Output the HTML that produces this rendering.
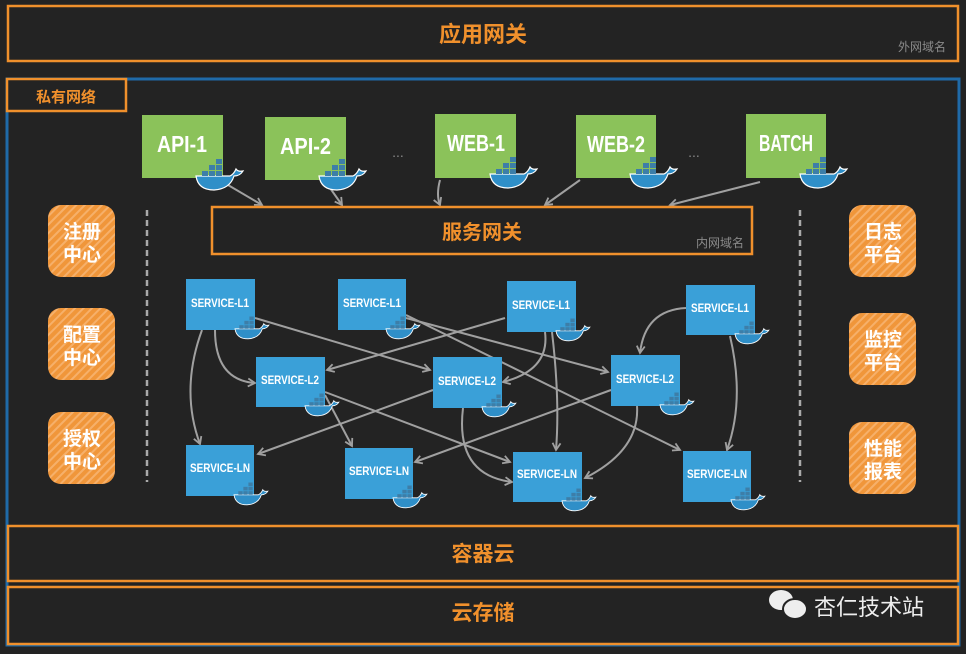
<!DOCTYPE html>
<html><head><meta charset="utf-8"><style>
body{margin:0;background:#232323;}
svg text{font-family:"Liberation Sans","Noto Sans CJK SC",sans-serif;}
</style></head><body>
<svg width="966" height="649" viewBox="0 0 966 649" xmlns="http://www.w3.org/2000/svg">
<defs>
<pattern id="st" width="6" height="6" patternUnits="userSpaceOnUse" patternTransform="rotate(45)">
<rect width="6" height="6" fill="#f0963a"/><rect width="2" height="6" fill="#f6b06a"/>
</pattern>
<marker id="ah" markerWidth="10" markerHeight="10" refX="8" refY="5" orient="auto" markerUnits="userSpaceOnUse">
<path d="M1,1 L8,5 L1,9" fill="none" stroke="#a0a0a0" stroke-width="1.8"/>
</marker>
<g id="wh">
<path d="M0,8 Q2,22 18,22 Q34,21 38,8 Q44,8 47,3 Q42,4 40,1 Q38,6 34,8 Z" fill="#2f8fc8" stroke="#fff" stroke-width="1.2"/>
<rect x="6" y="3" width="6" height="5" fill="#3d7ea8"/><rect x="13" y="3" width="6" height="5" fill="#3d7ea8"/><rect x="20" y="3" width="6" height="5" fill="#3d7ea8"/>
<rect x="13" y="-3" width="6" height="5" fill="#3d7ea8"/><rect x="20" y="-3" width="6" height="5" fill="#3d7ea8"/><rect x="20" y="-9" width="6" height="5" fill="#3d7ea8"/>
</g>
</defs>
<rect width="966" height="649" fill="#232323"/>
<rect x="7" y="79" width="952" height="566" fill="none" stroke="#1f6aa8" stroke-width="3"/>
<rect x="8" y="6" width="950" height="55" fill="none" stroke="#f0902c" stroke-width="2.5"/>
<text x="483" y="42" fill="#f0902c" font-size="22" font-weight="bold" text-anchor="middle">应用网关</text>
<text x="922" y="51" fill="#8a8a8a" font-size="12" text-anchor="middle">外网域名</text>
<rect x="7" y="79" width="119" height="32" fill="#232323" stroke="#f0902c" stroke-width="2.5"/>
<text x="66" y="102" fill="#f0902c" font-size="15" font-weight="bold" text-anchor="middle">私有网络</text>
<g fill="#8bc25a">
<rect x="142" y="115" width="81" height="63"/><rect x="265" y="117" width="81" height="63"/>
<rect x="435" y="114" width="81" height="64"/><rect x="576" y="115" width="80" height="63"/><rect x="746" y="114" width="80" height="64"/>
</g>
<g fill="#fff" font-size="23" font-weight="bold" lengthAdjust="spacingAndGlyphs">
<text x="157" y="152" textLength="50" lengthAdjust="spacingAndGlyphs">API-1</text>
<text x="280" y="154" textLength="51" lengthAdjust="spacingAndGlyphs">API-2</text>
<text x="447" y="151" textLength="58" lengthAdjust="spacingAndGlyphs">WEB-1</text>
<text x="587" y="152" textLength="58" lengthAdjust="spacingAndGlyphs">WEB-2</text>
<text x="759" y="151" textLength="54" lengthAdjust="spacingAndGlyphs">BATCH</text>
</g>
<text x="398" y="157" fill="#888" font-size="14" text-anchor="middle">...</text>
<text x="694" y="157" fill="#888" font-size="14" text-anchor="middle">...</text>
<g fill="none" stroke="#a0a0a0" stroke-width="2" marker-end="url(#ah)">
<path d="M228,185 L262,205"/><path d="M330,188 L342,205"/><path d="M440,180 Q436,195 440,205"/>
<path d="M580,180 L545,205"/><path d="M760,182 L670,205"/>
</g>
<use href="#wh" x="196" y="168"/><use href="#wh" x="319" y="168"/><use href="#wh" x="490" y="166"/><use href="#wh" x="630" y="166"/><use href="#wh" x="800" y="166"/>
<rect x="212" y="207" width="540" height="47" fill="none" stroke="#f0902c" stroke-width="2.5"/>
<text x="482" y="239" fill="#f0902c" font-size="20" font-weight="bold" text-anchor="middle">服务网关</text>
<text x="720" y="247" fill="#8a8a8a" font-size="12" text-anchor="middle">内网域名</text>
<line x1="147" y1="210" x2="147" y2="482" stroke="#aaa" stroke-width="2.5" stroke-dasharray="6,4"/>
<line x1="800" y1="210" x2="800" y2="482" stroke="#aaa" stroke-width="2.5" stroke-dasharray="6,4"/>
<g fill="url(#st)">
<rect x="48" y="205" width="67" height="72" rx="13"/><rect x="48" y="308" width="67" height="72" rx="13"/><rect x="48" y="412" width="67" height="72" rx="13"/>
<rect x="849" y="205" width="67" height="72" rx="13"/><rect x="849" y="313" width="67" height="72" rx="13"/><rect x="849" y="422" width="67" height="72" rx="13"/>
</g>
<g fill="#fff" font-size="19" font-weight="bold" text-anchor="middle">
<text x="82" y="238">注册</text><text x="82" y="261">中心</text>
<text x="82" y="341">配置</text><text x="82" y="364">中心</text>
<text x="82" y="445">授权</text><text x="82" y="468">中心</text>
<text x="883" y="238">日志</text><text x="883" y="261">平台</text>
<text x="883" y="346">监控</text><text x="883" y="369">平台</text>
<text x="883" y="455">性能</text><text x="883" y="478">报表</text>
</g>
<g fill="none" stroke="#a0a0a0" stroke-width="2" marker-end="url(#ah)">
<path d="M202,330 Q180,390 200,444"/>
<path d="M215,330 Q215,380 255,383"/>
<path d="M255,318 L430,370"/>
<path d="M406,318 L608,372"/>
<path d="M406,315 L680,450"/>
<path d="M505,318 L327,370"/>
<path d="M545,332 Q550,370 503,382"/>
<path d="M552,332 Q560,400 556,450"/>
<path d="M686,308 Q645,310 640,353"/>
<path d="M730,336 Q745,400 727,450"/>
<path d="M325,395 L352,446"/>
<path d="M325,392 L510,462"/>
<path d="M433,390 L258,454"/>
<path d="M463,408 Q455,475 512,482"/>
<path d="M611,390 L415,462"/>
<path d="M637,406 Q640,450 585,478"/>
</g>
<g fill="#3aa0d8">
<rect x="186" y="279" width="69" height="51"/><rect x="338" y="279" width="68" height="51"/><rect x="507" y="281" width="69" height="51"/><rect x="686" y="285" width="69" height="50"/>
<rect x="256" y="357" width="69" height="50"/><rect x="433" y="357" width="69" height="51"/><rect x="611" y="355" width="69" height="51"/>
<rect x="186" y="445" width="68" height="51"/><rect x="345" y="448" width="68" height="51"/><rect x="513" y="452" width="69" height="50"/><rect x="683" y="451" width="68" height="51"/>
</g>
<g fill="#fff" font-size="12" font-weight="bold">
<text x="191" y="307" textLength="58" lengthAdjust="spacingAndGlyphs">SERVICE-L1</text>
<text x="343" y="307" textLength="58" lengthAdjust="spacingAndGlyphs">SERVICE-L1</text>
<text x="512" y="309" textLength="58" lengthAdjust="spacingAndGlyphs">SERVICE-L1</text>
<text x="691" y="312" textLength="58" lengthAdjust="spacingAndGlyphs">SERVICE-L1</text>
<text x="261" y="384" textLength="58" lengthAdjust="spacingAndGlyphs">SERVICE-L2</text>
<text x="438" y="385" textLength="58" lengthAdjust="spacingAndGlyphs">SERVICE-L2</text>
<text x="616" y="383" textLength="58" lengthAdjust="spacingAndGlyphs">SERVICE-L2</text>
<text x="190" y="472" textLength="60" lengthAdjust="spacingAndGlyphs">SERVICE-LN</text>
<text x="349" y="475" textLength="60" lengthAdjust="spacingAndGlyphs">SERVICE-LN</text>
<text x="517" y="478" textLength="60" lengthAdjust="spacingAndGlyphs">SERVICE-LN</text>
<text x="687" y="478" textLength="60" lengthAdjust="spacingAndGlyphs">SERVICE-LN</text>
</g>
<use href="#wh" transform="translate(235,323) scale(0.72)"/>
<use href="#wh" transform="translate(386,323) scale(0.72)"/>
<use href="#wh" transform="translate(556,325) scale(0.72)"/>
<use href="#wh" transform="translate(735,328) scale(0.72)"/>
<use href="#wh" transform="translate(305,400) scale(0.72)"/>
<use href="#wh" transform="translate(482,401) scale(0.72)"/>
<use href="#wh" transform="translate(660,399) scale(0.72)"/>
<use href="#wh" transform="translate(234,489) scale(0.72)"/>
<use href="#wh" transform="translate(393,492) scale(0.72)"/>
<use href="#wh" transform="translate(562,495) scale(0.72)"/>
<use href="#wh" transform="translate(731,494) scale(0.72)"/>
<rect x="8" y="526" width="950" height="55" fill="#232323" stroke="#f0902c" stroke-width="2.5"/>
<text x="483" y="561" fill="#f0902c" font-size="21" font-weight="bold" text-anchor="middle">容器云</text>
<rect x="8" y="587" width="950" height="57" fill="#232323" stroke="#f0902c" stroke-width="2.5"/>
<text x="483" y="620" fill="#f0902c" font-size="21" font-weight="bold" text-anchor="middle">云存储</text>
<ellipse cx="781" cy="600" rx="12" ry="10" fill="#eee"/>
<ellipse cx="795" cy="609" rx="12" ry="10" fill="#eee" stroke="#232323" stroke-width="2"/>
<text x="814" y="615" fill="#eee" font-size="22">杏仁技术站</text>
</svg>
</body></html>
